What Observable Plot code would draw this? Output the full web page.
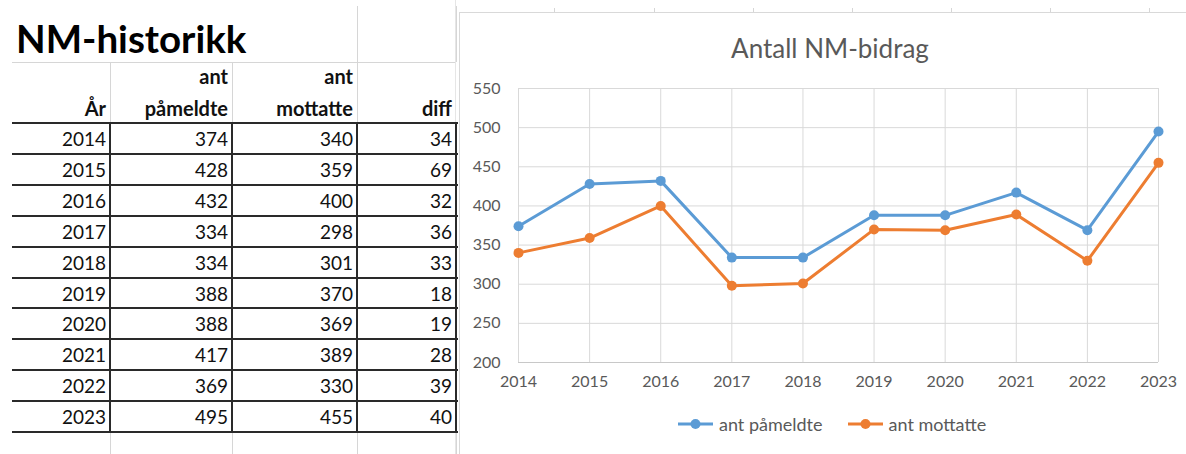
<!DOCTYPE html>
<html><head><meta charset="utf-8">
<script src="https://cdn.jsdelivr.net/npm/d3@7"></script>
<script src="https://cdn.jsdelivr.net/npm/@observablehq/plot@0.6"></script>
<style>
body{margin:0;background:#fff;}
#page{position:relative;width:1186px;height:454px;overflow:hidden;background:#fff;font-family:Lato,"Open Sans",sans-serif;}
.abs{position:absolute;}
.cell{position:absolute;text-align:right;color:#111;white-space:nowrap;}
</style></head><body><div id="page"></div>
<script>
// ---- data ----
const sheetTitle = "NM-historikk";
const chartTitle = "Antall NM-bidrag";
const headerTop = ["", "ant", "ant", ""];
const headerBottom = ["År", "påmeldte", "mottatte", "diff"];
const years = [2014, 2015, 2016, 2017, 2018, 2019, 2020, 2021, 2022, 2023];
const pameldte = [374, 428, 432, 334, 334, 388, 388, 417, 369, 495];
const mottatte = [340, 359, 400, 298, 301, 370, 369, 389, 330, 455];
const diff = [34, 69, 32, 36, 33, 18, 19, 28, 39, 40];
const seriesNames = ["ant påmeldte", "ant mottatte"];
const seriesColors = ["#5B9BD5", "#ED7D31"];
const yTicks = [200, 250, 300, 350, 400, 450, 500, 550];

const page = document.getElementById("page");
function box(x, y, w, h, bg) {
  const d = document.createElement("div");
  d.className = "abs";
  Object.assign(d.style, {left: x + "px", top: y + "px", width: w + "px", height: h + "px", background: bg});
  page.appendChild(d);
  return d;
}
function text(str, x, y, w, h, style) {
  const d = document.createElement("div");
  d.className = "cell";
  d.textContent = str;
  Object.assign(d.style, {left: x + "px", top: y + "px", width: w + "px", height: h + "px", lineHeight: h + "px"}, style || {});
  page.appendChild(d);
  return d;
}

// ---- spreadsheet table ----
const light = "#d6d6d6";
const dark = "#2a2a2a";
const tableLeft = 12;
const colRight = [110, 232, 357, 456];
const rowTop = 123, rowH = 30.9;
// light excel gridlines
box(tableLeft, 62, 444, 1, light);
[357, 456].forEach(x => box(x, 6, 1, 56, light));
colRight.slice(0, 3).forEach(x => box(x, 62, 1, 61, light));
colRight.forEach(x => box(x, 433, 1, 21, light));
box(455, 0, 1, 454, "#e6e6e6");

// sheet title
text(sheetTitle, 16, 15, 320, 46, {textAlign: "left", fontWeight: "bold", fontSize: "38.5px", color: "#000"});

// headers
const colLeft = [tableLeft, ...colRight.slice(0, 3)];
headerTop.forEach((h, i) => text(h, colLeft[i], 63, colRight[i] - colLeft[i] - 4, 26, {fontWeight: "bold", fontSize: "20px"}));
headerBottom.forEach((h, i) => text(h, colLeft[i], 94, colRight[i] - colLeft[i] - 4, 28, {fontWeight: "bold", fontSize: "20px"}));

// rows
years.forEach((yr, r) => {
  const vals = [yr, pameldte[r], mottatte[r], diff[r]];
  const top = rowTop + r * rowH + 1;
  vals.forEach((v, i) => text(String(v), colLeft[i], top, colRight[i] - colLeft[i] - 4, rowH, {fontSize: "19px"}));
});
// thick borders
for (let i = 0; i <= years.length; i++) box(tableLeft, Math.round(rowTop + i * rowH) - 1, 446, 2, dark);
colRight.forEach(x => box(x - 1, rowTop - 1, 2, years.length * rowH + 2, dark));

// ---- chart frame ----
const frame = box(459, 12, 800, 500, "transparent");
frame.style.borderLeft = "1px solid #d9d9d9";
frame.style.borderTop = "1px solid #d9d9d9";
// excel gridline stubs above chart
[554, 654, 753, 852, 951, 1050, 1149].forEach(x => box(x, 8, 1, 4, light));

// chart title
text(chartTitle, 630, 30, 400, 36, {textAlign: "center", fontSize: "26px", color: "#595959"});

// ---- Plot chart ----
const data = years.flatMap((yr, i) => [
  {year: yr, value: pameldte[i], series: seriesNames[0]},
  {year: yr, value: mottatte[i], series: seriesNames[1]}
]);
const chart = Plot.plot({
  width: 726, height: 441,
  marginLeft: 58, marginRight: 28, marginTop: 75, marginBottom: 92,
  style: {fontFamily: "Lato, 'Open Sans', sans-serif", fontSize: "16px", color: "#595959", background: "transparent", overflow: "visible"},
  x: {type: "linear", domain: [2014, 2023], label: null},
  y: {domain: [200, 550], label: null},
  color: {domain: seriesNames, range: seriesColors},
  marks: [
    Plot.gridX(years, {stroke: "#d9d9d9", strokeOpacity: 1}),
    Plot.gridY(yTicks, {stroke: "#d9d9d9", strokeOpacity: 1}),
    Plot.ruleY([200], {stroke: "#c8c8c8"}),
    Plot.axisX(years, {tickSize: 0, tickPadding: 13, tickFormat: d => String(d), label: null}),
    Plot.axisY(yTicks, {tickSize: 0, tickPadding: 18, label: null}),
    Plot.line(data, {x: "year", y: "value", stroke: "series", strokeWidth: 3}),
    Plot.dot(data, {x: "year", y: "value", fill: "series", r: 5})
  ]
});
chart.style.position = "absolute";
chart.style.left = "460px";
chart.style.top = "13px";
page.appendChild(chart);

// ---- legend ----
const legend = document.createElement("div");
legend.className = "abs";
Object.assign(legend.style, {left: "677px", top: "413px", display: "flex", alignItems: "center", gap: "24px", fontSize: "18px", color: "#595959"});
seriesNames.forEach((name, i) => {
  const item = document.createElement("div");
  item.style.display = "flex";
  item.style.alignItems = "center";
  item.innerHTML = `<svg width="38" height="14"><line x1="1" x2="36" y1="7" y2="7" stroke="${seriesColors[i]}" stroke-width="3"/><circle cx="18.5" cy="7" r="5" fill="${seriesColors[i]}"/></svg><span style="margin-left:4px">${name}</span>`;
  legend.appendChild(item);
});
page.appendChild(legend);
</script></body></html>
